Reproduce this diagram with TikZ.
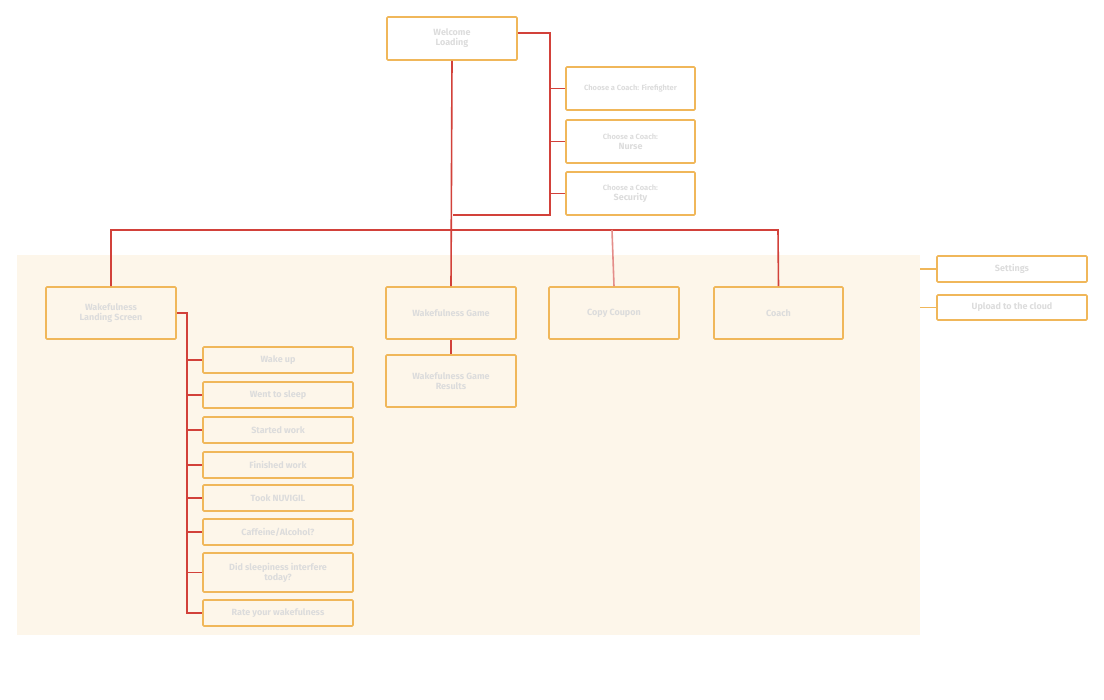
\documentclass[tikz,border=0pt]{standalone}
\usepackage{fontspec}
\setmainfont{Fira Sans}
\definecolor{boxline}{HTML}{F0B75A}
\definecolor{link}{HTML}{D2413A}
\definecolor{area}{HTML}{FDF6EA}
\definecolor{label}{HTML}{DCDCDC}
\tikzset{
  box/.style={draw=boxline,line width=1.6pt,rounded corners=1pt,inner sep=0pt,
    text=label,align=center,font=\fontsize{9}{10}\selectfont\bfseries},
  link/.style={draw=link,line width=1.6pt}
}
\begin{document}
\begin{tikzpicture}[x=1pt,y=-1pt]
        \useasboundingbox (0,0) rectangle (1104,700);
        \fill[area] (17,255) rectangle (920,635);

        % top level
        \node[box,minimum width=130,minimum height=43] (welcome) at (452,38.5) {Welcome\\Loading};
        \node[box,minimum width=129,minimum height=43] (fire) at (630.5,88.5) {\fontsize{7.5}{8.5}\selectfont Choose a Coach: Firefighter};
        \node[box,minimum width=129,minimum height=43] (nurse) at (630.5,141.5) {\fontsize{7.5}{8.5}\selectfont Choose a Coach:\\Nurse};
        \node[box,minimum width=129,minimum height=43] (security) at (630.5,193.5) {\fontsize{7.5}{8.5}\selectfont Choose a Coach:\\Security};

        % main screens
        \node[box,minimum width=130,minimum height=52] (landing) at (111,313) {Wakefulness\\Landing Screen};
        \node[box,minimum width=130,minimum height=52] (game) at (451,313) {Wakefulness Game};
        \node[box,minimum width=130,minimum height=52] (results) at (451,381) {Wakefulness Game\\Results};
        \node[box,minimum width=130,minimum height=52] (coupon) at (614,313) {Copy Coupon};
        \node[box,minimum width=129,minimum height=52] (coach) at (778.5,313) {Coach};
        \node[box,minimum width=150,minimum height=26] (settings) at (1012,269) {Settings};
        \node[box,minimum width=150,minimum height=25] (upload) at (1012,307.5) {Upload to the cloud};

        % landing items
        \node[box,minimum width=150,minimum height=26] (wake) at (278,360) {Wake up};
        \node[box,minimum width=150,minimum height=26] (sleep) at (278,395) {Went to sleep};
        \node[box,minimum width=150,minimum height=26] (started) at (278,430) {Started work};
        \node[box,minimum width=150,minimum height=26] (finished) at (278,465) {Finished work};
        \node[box,minimum width=150,minimum height=26] (took) at (278,498) {Took NUVIGIL};
        \node[box,minimum width=150,minimum height=26] (caffeine) at (278,532) {Caffeine/Alcohol?};
        \node[box,minimum width=150,minimum height=39] (did) at (278,572.5) {Did sleepiness interfere\\today?};
        \node[box,minimum width=150,minimum height=26] (rate) at (278,613) {Rate your wakefulness};

        % connectors
        \draw[link] (welcome.east |- 0,33) -| (550,215) -- (453,215);
        \foreach \n in {fire,nurse,security}
          \draw[link] (550,0 |- \n.west) -- (\n.west);
        \draw[link] (welcome.south) -- (game.north);
        \draw[link] (landing.north) |- (778,230) -- (coach.north);
        \draw[link,draw=link!60] (612,230) -- (coupon.north);
        \draw[link] (game.south) -- (results.north);
        \draw[link] (landing.east) -| (187,613) -- (rate.west);
        \foreach \n in {wake,sleep,started,finished,took,caffeine,did}
          \draw[link] (187,0 |- \n.west) -- (\n.west);
        \draw[draw=boxline,line width=1.2pt] (920,0 |- settings.west) -- (settings.west);
        \draw[draw=boxline,line width=1.2pt] (920,0 |- upload.west) -- (upload.west);
\end{tikzpicture}
\end{document}
